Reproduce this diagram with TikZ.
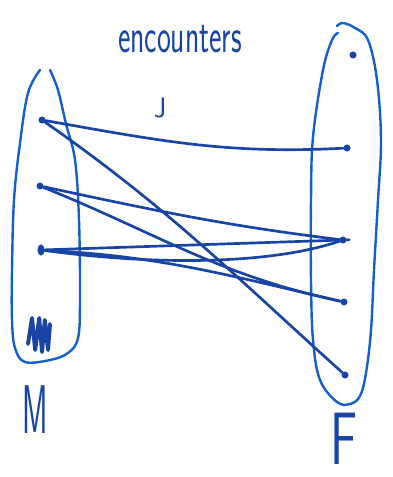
\documentclass[tikz,border=0pt]{standalone}
\usepackage{graphicx}
\usetikzlibrary{shapes.geometric}
\definecolor{ink}{RGB}{24,68,165}
\definecolor{penblue}{RGB}{18,95,205}
\begin{document}
\begin{tikzpicture}[font=\sffamily, line cap=round, line join=round,
  dot/.style={circle, fill=ink, inner sep=0pt, minimum size=5pt},
  link/.style={ink, line width=1.9pt},
  setline/.style={penblue, line width=1.7pt}]
  \useasboundingbox (0,0) rectangle (9.8,-11.925);
  % labels
  \node[ink] (title) at (4.5,-0.98) {\scalebox{0.6}[1]{\fontsize{35}{35}\selectfont encounters}};
  \node[ink] (jmark) at (4.0,-2.7) {\fontsize{20}{20}\selectfont J};
  \node[ink] (mlabel) at (0.875,-10.25) {\scalebox{0.45}[1]{\fontsize{49}{49}\selectfont M}};
  \node[ink, inner sep=0pt] (flabel) at (8.6,-10.98) {\scalebox{0.75}[1.1]{\fontsize{48}{48}\selectfont F}};
  % set M
  \draw[setline] plot[smooth, tension=0.6] coordinates {(1.25,-1.75) (1.45,-2.25) (1.65,-3.1) (1.875,-4.0) (1.975,-5.5)
    (2.0,-7.5) (1.95,-8.45) (1.7,-8.825) (1.25,-9.0) (0.625,-9.05) (0.375,-8.7) (0.3,-8.0) (0.3,-6.75)
    (0.35,-5.0) (0.5,-3.575) (0.7,-2.325) (1.0,-1.75)};
  % set F
  \draw[setline] plot[smooth, tension=0.6] coordinates {(8.45,-0.825) (8.3,-1.0) (8.075,-1.75) (7.825,-3.425)
    (7.775,-5.0) (7.775,-7.0) (7.825,-8.5) (8.0,-9.5) (8.425,-10.05) (8.75,-10.1) (9.0,-9.9) (9.15,-9.325)
    (9.275,-8.25) (9.35,-6.75) (9.45,-5.0) (9.525,-3.5) (9.425,-2.0) (9.2,-1.0) (8.875,-0.7) (8.575,-0.575) (8.425,-0.65)};
  % elements
  \node[dot] (m1) at (1.05,-3.0) {};
  \node[dot] (m2) at (1.0,-4.65) {};
  \node[dot, ellipse, minimum height=8pt, minimum width=5pt] (m3) at (1.025,-6.25) {};
  \coordinate (m4) at (0.95,-8.4);
  \draw[ink, line width=2.8pt] (0.7,-8.6) -- (0.8,-7.95) -- (0.88,-8.75) -- (0.98,-7.95) -- (1.05,-8.8)
    -- (1.12,-8.0) -- (1.2,-8.75) -- (1.25,-8.1);
  \node[dot] (f0) at (8.825,-1.375) {};
  \node[dot] (f1) at (8.675,-3.7) {};
  \node[dot] (f2) at (8.575,-6.0) {};
  \node[dot] (f3) at (8.6,-7.55) {};
  \node[dot] (f4) at (8.625,-9.375) {};
  % pairs
  \draw[link] (m1) to[out=-10, in=183] (f1);
  \draw[link] (m1) to[out=-35, in=138] (f4);
  \draw[link] (m2) to[out=-12, in=173] (f2);
  \draw[link] (m2) to[out=-22, in=168] (f3);
  \draw[link, shorten >=-0.25cm] (m3) -- (f2);
  \draw[link] (m3) .. controls (4,-6.65) and (6.8,-6.6) .. (f2);
  \draw[link] (m3) to[out=-3, in=167] (f3);
\end{tikzpicture}
\end{document}
